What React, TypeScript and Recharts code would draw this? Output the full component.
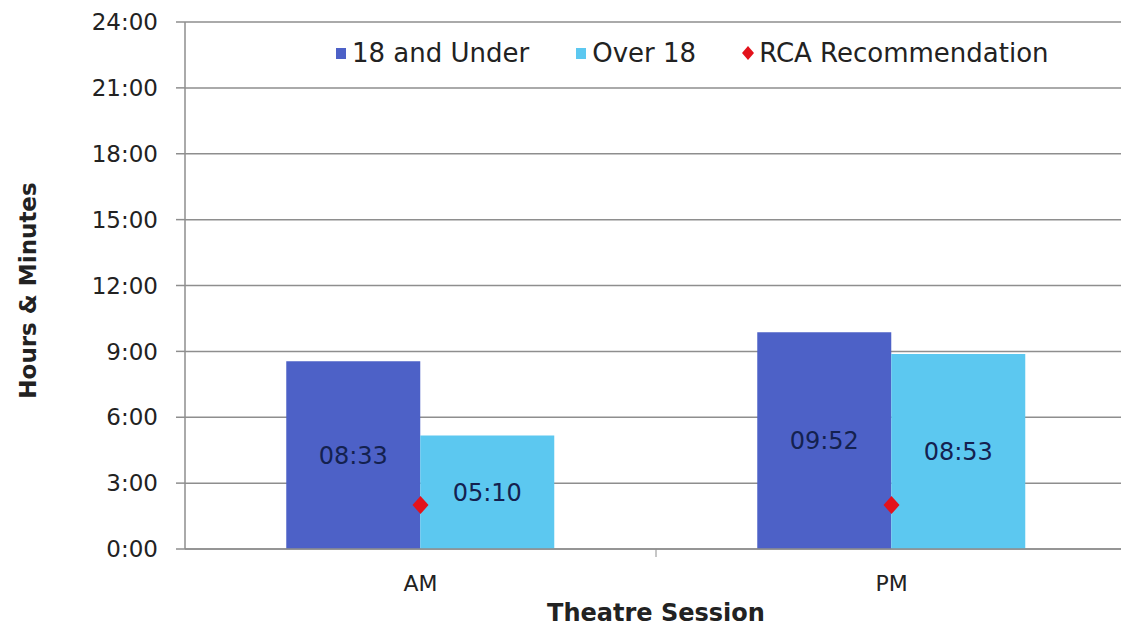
import React from 'react';
import { ComposedChart, Bar, Line, XAxis, YAxis, CartesianGrid, LabelList } from 'recharts';

// durations are kept in minutes
const sessions = ['AM', 'PM'];
const underEighteen = [513, 592];
const overEighteen = [310, 533];
const rcaRecommendation = [120, 120];
const hourTicks = [0, 180, 360, 540, 720, 900, 1080, 1260, 1440];

const DARK_BLUE = '#4d61c7';
const LIGHT_BLUE = '#5cc8f0';
const RCA_RED = '#e3121b';
const GRID = '#8e8e8e';
const FONT = '"DejaVu Sans", Verdana, sans-serif';

const data = sessions.map((session, i) => ({
  session,
  under: underEighteen[i],
  over: overEighteen[i],
  rca: rcaRecommendation[i],
}));

const pad = (n: number) => String(n).padStart(2, '0');
const axisTime = (m: number) => `${Math.floor(m / 60)}:${pad(m % 60)}`;
const barTime = (m: any) => `${pad(Math.floor(Number(m) / 60))}:${pad(Number(m) % 60)}`;

const Diamond = ({ cx, cy }: any) => {
  if (cx == null || cy == null) return null;
  return <path d={`M${cx},${cy - 9}L${cx + 8},${cy}L${cx},${cy + 9}L${cx - 8},${cy}Z`} fill={RCA_RED} />;
};

// category label at band centre, small tick on the band boundary
const SessionTick = ({ x, y, payload, index }: any) => (
  <g>
    {index === 0 && payload.offset ? (
      <line x1={x + payload.offset} x2={x + payload.offset} y1={y - 26} y2={y - 18} stroke={GRID} />
    ) : null}
    <text x={x} y={y} dy="0.71em" textAnchor="middle" fontSize={22} fill="#222" fontFamily={FONT}>
      {payload.value}
    </text>
  </g>
);

const YTitle = ({ viewBox }: any) => {
  const x = 28;
  const y = viewBox.y + viewBox.height / 2 + 5;
  return (
    <text x={x} y={y} transform={`rotate(-90, ${x}, ${y})`} textAnchor="middle" dominantBaseline="central"
      fontSize={23} fontWeight="bold" fill="#222" fontFamily={FONT}>
      Hours &amp; Minutes
    </text>
  );
};

const legendItems = [
  { label: '18 and Under', color: DARK_BLUE, shape: 'square' },
  { label: 'Over 18', color: LIGHT_BLUE, shape: 'square' },
  { label: 'RCA Recommendation', color: RCA_RED, shape: 'diamond' },
];

const ChartLegend = () => (
  <div style={{ position: 'absolute', left: 333, top: 38, display: 'flex', alignItems: 'center', fontFamily: FONT, fontSize: 26, color: '#222', whiteSpace: 'nowrap' }}>
    {legendItems.map((item) => (
      <div key={item.label} style={{ display: 'flex', alignItems: 'center', marginRight: 44 }}>
        <svg width={16} height={16} style={{ marginRight: 3 }}>
          {item.shape === 'square' ? (
            <rect x={3} y={3} width={10} height={11} fill={item.color} />
          ) : (
            <path d="M8,1L14,8L8,15L2,8Z" fill={item.color} />
          )}
        </svg>
        <span>{item.label}</span>
      </div>
    ))}
  </div>
);

export default function App() {
  return (
    <div style={{ position: 'absolute', left: 0, top: 0, width: 1121, height: 630, background: '#fff', overflow: 'hidden' }}>
      <ComposedChart width={1127} height={630} data={data} margin={{ top: 22, right: 0, left: 0, bottom: 0 }}
        barCategoryGap="21.5%" barGap={0}>
        <CartesianGrid vertical={false} stroke={GRID} strokeWidth={1.5} />
        <XAxis dataKey="session" height={81} axisLine={{ stroke: GRID, strokeWidth: 1.5 }} tickLine={false}
          tickSize={8} tickMargin={18} tick={<SessionTick />}
          label={{ value: 'Theatre Session', position: 'insideBottom', offset: 9, fontSize: 24, fontWeight: 'bold', fill: '#222', fontFamily: FONT }} />
        <YAxis width={185} domain={[0, 1440]} ticks={hourTicks} tickFormatter={axisTime} interval={0}
          axisLine={{ stroke: GRID, strokeWidth: 1.5 }} tickLine={{ stroke: GRID, strokeWidth: 1.5 }} tickSize={9} tickMargin={18}
          tick={{ fontSize: 23, fill: '#222', fontFamily: FONT }} label={<YTitle />} />
        <Bar dataKey="under" fill={DARK_BLUE} isAnimationActive={false}>
          <LabelList dataKey="under" position="center" formatter={barTime} fill="#14214f" fontSize={24} fontFamily={FONT} />
        </Bar>
        <Bar dataKey="over" fill={LIGHT_BLUE} isAnimationActive={false}>
          <LabelList dataKey="over" position="center" formatter={barTime} fill="#14214f" fontSize={24} fontFamily={FONT} />
        </Bar>
        <Line dataKey="rca" stroke="none" dot={<Diamond />} activeDot={false} isAnimationActive={false} />
      </ComposedChart>
      <ChartLegend />
    </div>
  );
}
